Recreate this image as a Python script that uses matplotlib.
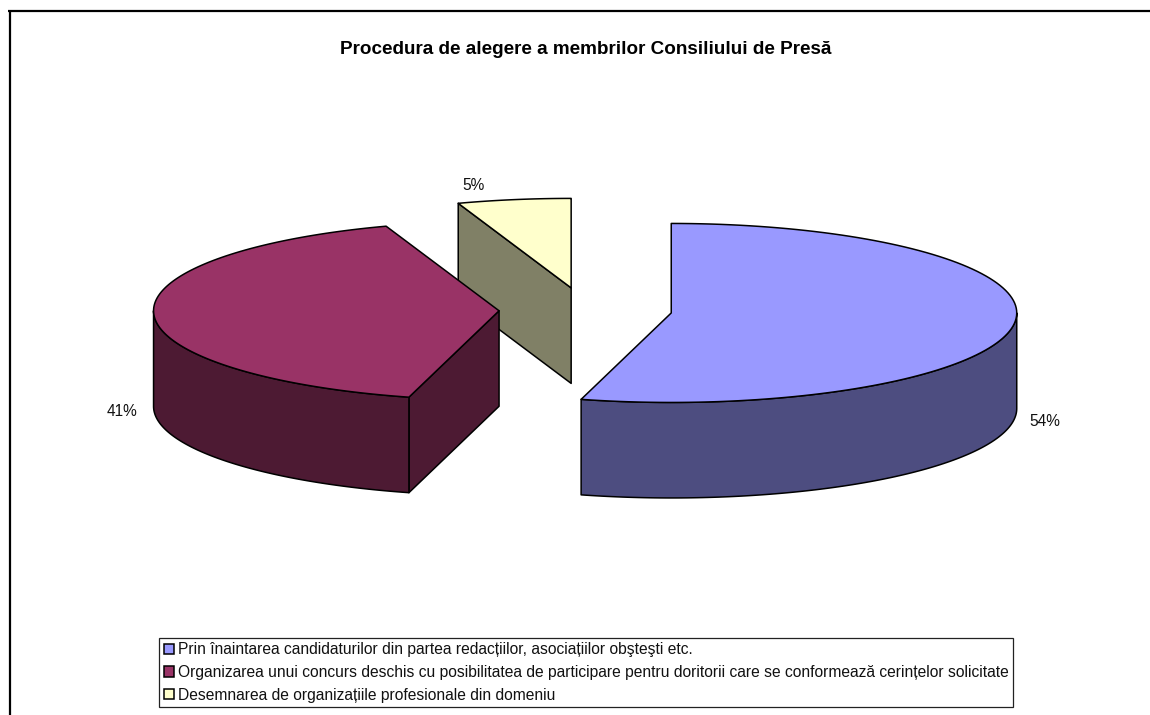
import numpy as np
import matplotlib
matplotlib.use("Agg")
import matplotlib.pyplot as plt
from matplotlib.patches import Polygon, Patch

plt.rcParams['font.family'] = ['Liberation Sans', 'DejaVu Sans']

titlu = "Procedura de alegere a membrilor Consiliului de Presă"
categorii = [
    "Prin înaintarea candidaturilor din partea redacțiilor, asociațiilor obşteşti etc.",
    "Organizarea unui concurs deschis cu posibilitatea de participare pentru doritorii care se conformează cerințelor solicitate",
    "Desemnarea de organizațiile profesionale din domeniu",
]
valori = [54.2, 40.5, 5.3]
etichete = ["54%", "41%", "5%"]
culori = ["#9999FF", "#993366", "#FFFFCC"]
culori_umbra = ["#4D4D80", "#4D1A33", "#808066"]

# geometria placintei, in pixeli
CX, CY = 585.5, 310.0
A, B = 345.5, 89.5
ADANCIME = 95.5
EXPLODE = 86.5
LW = 1.1

poz_etichete = [(1045, 421), (122, 411), (473, 185)]


def punct(c, t):
    # t in grade, in sensul acelor de ceasornic de la ora 12
    r = np.radians(t)
    return c[0] + A * np.sin(r), c[1] - B * np.cos(r)


def arc(c, t0, t1):
    ts = np.linspace(t0, t1, 120)
    x, y = punct(c, ts)
    return np.column_stack([x, y])


fig = plt.figure(figsize=(11.5, 7.15), dpi=100)
ax = fig.add_axes([0, 0, 1, 1])
ax.set_xlim(0, 1150)
ax.set_ylim(715, 0)
ax.axis("off")

# chenarul taiat al imaginii
ax.plot([8, 1150], [11, 11], color="black", lw=1.6, solid_capstyle="butt")
ax.plot([10, 10], [11, 715], color="black", lw=1.6, solid_capstyle="butt")

unghiuri = np.concatenate([[0], np.cumsum(valori) / np.sum(valori) * 360])

# se deseneaza din spate in fata
for i in [2, 1, 0]:
    t0, t1 = unghiuri[i], unghiuri[i + 1]
    mij = np.radians((t0 + t1) / 2)
    c = (CX + EXPLODE * np.sin(mij), CY - EXPLODE * B / A * np.cos(mij))
    fete = []
    for t, vizibil in [(t0, np.sin(np.radians(t0)) < 0), (t1, np.sin(np.radians(t1)) > 0)]:
        if vizibil:
            p = punct(c, t)
            fete.append([c, p, (p[0], p[1] + ADANCIME), (c[0], c[1] + ADANCIME)])
    a0, a1 = max(t0, 90), min(t1, 270)
    if a0 < a1:
        sus = arc(c, a0, a1)
        jos = sus[::-1] + [0, ADANCIME]
        fete.append(np.vstack([sus, jos]))
    for f in fete:
        ax.add_patch(Polygon(f, closed=True, fc=culori_umbra[i], ec="black", lw=LW, joinstyle="round"))
    varf = np.vstack([[c], arc(c, t0, t1)])
    ax.add_patch(Polygon(varf, closed=True, fc=culori[i], ec="black", lw=LW, joinstyle="round"))

for (x, y), e in zip(poz_etichete, etichete):
    ax.text(x, y, e, ha="center", va="center", fontsize=11.2, color="#111111")

ax.text(586, 49.5, titlu, ha="center", va="center", fontsize=13.6, fontweight="bold", color="black")

handles = [Patch(fc=c, ec="black", lw=1.1) for c in culori]
leg = ax.legend(handles, categorii, loc="upper left", bbox_to_anchor=(159, 637.5),
                bbox_transform=ax.transData, fontsize=11.24, fancybox=False,
                framealpha=1, edgecolor="#222222", borderpad=0.3, borderaxespad=0,
                labelspacing=0.5, handlelength=0.64, handleheight=0.64, handletextpad=0.25)
leg.get_frame().set_linewidth(0.9)
for t in leg.get_texts():
    t.set_color("#111111")

fig.savefig("out.png", dpi=100)
